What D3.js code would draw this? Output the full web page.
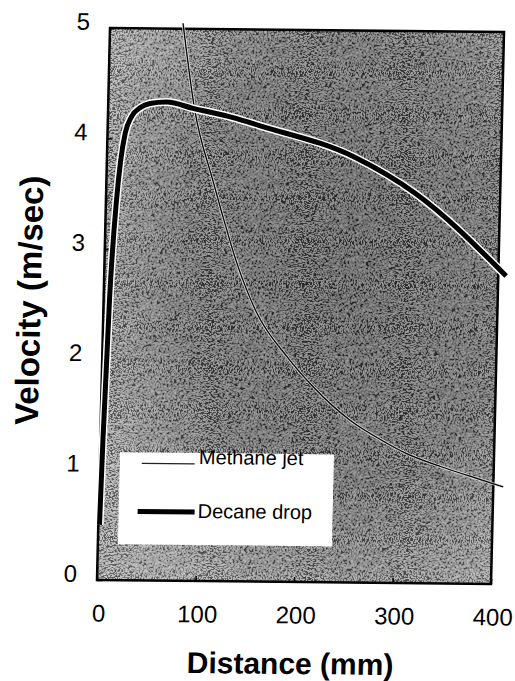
<!DOCTYPE html>
<html><head><meta charset="utf-8">
<script src="https://cdn.jsdelivr.net/npm/d3@7"></script>
<style>
html,body{margin:0;padding:0;background:#fff;}
text{font-family:"Liberation Sans",Arial,Helvetica,sans-serif;fill:#000;}
</style></head>
<body>
<script>
// ---- data ----
const xTicks = [0, 100, 200, 300, 400];
const yTicks = [0, 1, 2, 3, 4, 5];
const seriesNames = ["Methane jet", "Decane drop"];
const methaneX = [74, 88, 108, 118, 134.5, 156, 187.5, 214.7, 253, 286, 309.6, 347.5, 388.4, 410];
const methaneY = [5.05, 4.265, 3.63, 3.335, 2.88, 2.43, 2.04, 1.77, 1.47, 1.29, 1.18, 1.055, 0.94, 0.88];
const decaneX = [1.2, 2.7, 6.0, 10.7, 14.0, 18.0, 24.0, 32.4, 42.4, 59.6, 86.2, 127, 154, 252, 314, 408];
const decaneY = [0.50, 1.27, 2.54, 3.44, 3.80, 4.05, 4.20, 4.28, 4.32, 4.335, 4.28, 4.20, 4.13, 3.85, 3.53, 2.79];
const xTitle = "Distance (mm)";
const yTitle = "Velocity (m/sec)";

// ---- layout ----
const W = 394, H = 552;
const svg = d3.select("body").append("svg").attr("width", 515).attr("height", 681);
const defs = svg.append("defs");
const grad = defs.append("radialGradient").attr("id", "bgGrad")
  .attr("cx", "62%").attr("cy", "42%").attr("r", "70%");
grad.append("stop").attr("offset", "0%").attr("stop-color", "#3e3e3e");
grad.append("stop").attr("offset", "60%").attr("stop-color", "#555");
grad.append("stop").attr("offset", "100%").attr("stop-color", "#9a9a9a");
const f = defs.append("filter").attr("id", "speckle")
  .attr("x", "0%").attr("y", "0%").attr("width", "100%").attr("height", "100%");
f.append("feTurbulence").attr("type", "fractalNoise").attr("baseFrequency", "0.73 0.91")
  .attr("numOctaves", 1).attr("seed", 5).attr("result", "n");
f.append("feColorMatrix").attr("in", "n").attr("type", "matrix")
  .attr("values", "0.33 0.33 0.33 0 0 0.33 0.33 0.33 0 0 0.33 0.33 0.33 0 0 0 0 0 0 1").attr("result", "g");
const ct = f.append("feComponentTransfer").attr("in", "g").attr("result", "bw");
["feFuncR", "feFuncG", "feFuncB"].forEach(k => ct.append(k).attr("type", "discrete").attr("tableValues", "0 1"));
f.append("feComposite").attr("in", "bw").attr("in2", "SourceGraphic").attr("operator", "in");

const g = svg.append("g").attr("transform", "matrix(1,0.01015,-0.02355,1,110,28)");

const x = d3.scaleLinear().domain([0, 400]).range([0, W]);
const y = d3.scaleLinear().domain([0, 5]).range([H, 0]);

// plot background
g.append("rect").attr("width", W).attr("height", H).attr("fill", "url(#bgGrad)");
g.append("rect").attr("width", W).attr("height", H).attr("fill", "#fff")
  .attr("filter", "url(#speckle)").attr("opacity", 0.42);

// legend box
const lg = g.append("g");
lg.append("rect").attr("x", 20).attr("y", 424).attr("width", 214).attr("height", 92).attr("fill", "#fff");

// axes
const ax = g.append("g").attr("transform", `translate(0,${H})`)
  .call(d3.axisBottom(x).tickValues(xTicks).tickFormat(d3.format("d"))
    .tickSizeInner(-5).tickSizeOuter(0).tickPadding(24.5));
ax.select(".domain").remove();
ax.selectAll("text").attr("font-size", 24).attr("dx", 2);
ax.selectAll("line").attr("stroke", "#000").attr("stroke-width", 1.5);

const ay = g.append("g")
  .call(d3.axisLeft(y).tickValues(yTicks).tickFormat(d3.format("d"))
    .tickSizeInner(-5).tickSizeOuter(0).tickPadding(20));
ay.select(".domain").remove();
ay.selectAll("text").attr("font-size", 24).attr("dy", "0.07em");
ay.selectAll("line").attr("stroke", "#000").attr("stroke-width", 1.5);

// frame
g.append("rect").attr("width", W).attr("height", H).attr("fill", "none")
  .attr("stroke", "#000").attr("stroke-width", 2.5);

// lines
const line = d3.line().x(d => x(d[0])).y(d => y(d[1])).curve(d3.curveMonotoneX);
const methane = methaneX.map((v, i) => [v, methaneY[i]]);
const decane = decaneX.map((v, i) => [v, decaneY[i]]);
g.append("path").datum(methane).attr("d", line).attr("fill", "none").attr("stroke", "#eee").attr("stroke-width", 3).attr("opacity", 0.8);
g.append("path").datum(methane).attr("d", line).attr("fill", "none").attr("stroke", "#000").attr("stroke-width", 1.3);
g.append("path").datum(decane).attr("d", line).attr("fill", "none").attr("stroke", "#fff").attr("stroke-width", 8);
g.append("path").datum(decane).attr("d", line).attr("fill", "none").attr("stroke", "#000").attr("stroke-width", 5);

// legend entries
lg.append("line").attr("x1", 42).attr("x2", 95).attr("y1", 435).attr("y2", 435)
  .attr("stroke", "#222").attr("stroke-width", 1.2);
lg.append("text").attr("x", 99).attr("y", 435).attr("font-size", 20).text(seriesNames[0]);
lg.append("line").attr("x1", 39).attr("x2", 96).attr("y1", 483).attr("y2", 483)
  .attr("stroke", "#000").attr("stroke-width", 5);
lg.append("text").attr("x", 99).attr("y", 489).attr("font-size", 20).text(seriesNames[1]);
g.append(() => lg.node());

// titles
g.append("text").attr("x", 195).attr("y", 644).attr("text-anchor", "middle")
  .attr("font-size", 30).attr("font-weight", "bold").text(xTitle);
g.append("text").attr("transform", "translate(-63,273) rotate(-90)").attr("text-anchor", "middle")
  .attr("font-size", 33).attr("font-weight", "bold").text(yTitle);
</script>
</body></html>
